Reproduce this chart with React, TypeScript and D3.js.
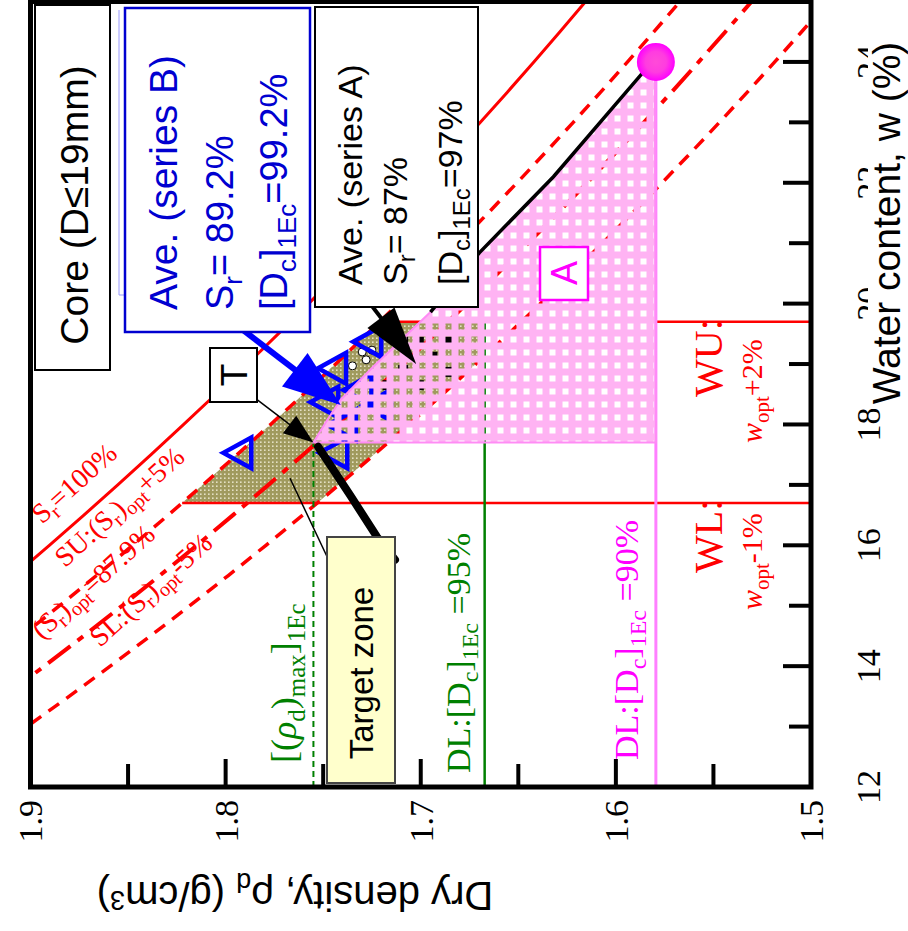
import React from "react";
import * as d3 from "d3";

// chart is drawn as a normal w–ρd chart, then the whole group is turned 90° CCW
const W = 908;
const H = 931;
const Gs = 2.71;

const wTicks = [12, 13, 14, 15, 16, 17, 18, 19, 20, 21, 22, 23, 24];
const wLabels = [12, 14, 16, 18, 20, 22, 24];
const rhoTicks = [1.5, 1.55, 1.6, 1.65, 1.7, 1.75, 1.8, 1.85, 1.9];
const rhoLabels = [1.5, 1.6, 1.7, 1.8, 1.9];

const srLevels = [100, 92.9, 87.9, 82.9];
const srDash = ["none", "13 9", "28 9 7 9", "13 9"];
const srWidth = [3, 3.5, 4, 3.5];
const srLabelW = [16.34, 15.62, 14.43, 14.3];
const srLabelRho = [1.8941, 1.8823, 1.8941, 1.8644];

const wOpt = 17.7;
const rhoMax = 1.755;
const wLower = 16.7;
const wUpper = 19.7;
const dcLevels = [95, 90];

const wetCurveW = [17.7, 18.07, 18.41, 18.95, 19.86, 20.84, 22.1, 23.83, 24.0];
const wetCurveRho = [1.755, 1.748, 1.741, 1.7245, 1.695, 1.67, 1.632, 1.586, 1.58];
const dryCurveW = [15.76, 16.14, 16.83, 17.63];
const dryCurveRho = [1.7132, 1.7224, 1.7362, 1.7526];

const seriesBW = [17.53, 18.93, 19.37, 17.53, 18.37, 18.57, 17.99, 18.32];
const seriesBRho = [1.7926, 1.744, 1.726, 1.7434, 1.748, 1.731, 1.739, 1.721];
const seriesAW = [19.37, 18.9, 19.12, 18.65, 19.37, 19.37, 18.65, 18.87];
const seriesARho = [1.701, 1.709, 1.694, 1.717, 1.686, 1.709, 1.701, 1.686];
const openW = [19.2, 19.23, 18.97, 19.07];
const openRho = [1.73, 1.725, 1.735, 1.728];

const aveA = { sr: 87, dc: 97 };
const aveB = { sr: 89.2, dc: 99.2 };

const xW = d3.scaleLinear().domain([12, 25]).range([144, 929.5]);
const yD = d3.scaleLinear().domain([1.5, 1.9]).range([811, 30.5]);

const rhoAt = (w: number, sr: number) => 1 / (w / sr + 1 / Gs);
const wAt = (rho: number, sr: number) => sr * (1 / rho - 1 / Gs);

type Part = [string, number];
const rich = (parts: Part[], size: number, sub: number, shift: number, italic?: string) => {
  let cur = 0;
  return parts.map(([t, lvl], i) => {
    const target = lvl * shift;
    const dy = target - cur;
    cur = target;
    return (
      <tspan key={i} dy={dy} fontSize={lvl === 0 ? size : sub}
        fontStyle={italic === t ? "italic" : undefined}>{t}</tspan>
    );
  });
};

function Arrow({ x1, y1, x2, y2, len, half, width, color }: any) {
  const dx = x2 - x1, dy = y2 - y1;
  const d = Math.hypot(dx, dy);
  const ux = dx / d, uy = dy / d;
  const bx = x2 - ux * len, by = y2 - uy * len;
  const pts = [[x2, y2], [bx - uy * half, by + ux * half], [bx + uy * half, by - ux * half]];
  return (
    <g>
      <line x1={x1} y1={y1} x2={bx + ux * 2} y2={by + uy * 2} stroke={color} strokeWidth={width} />
      <polygon points={pts.map((p) => p.join(",")).join(" ")} fill={color} />
    </g>
  );
}

export default function App() {
  const line = d3.line<[number, number]>().x((d) => xW(d[0])).y((d) => yD(d[1]));
  const wGrid = d3.range(11, 25.6, 0.5);

  const rhoDL = dcLevels.map((dc) => (rhoMax * dc) / 100);
  const su = srLevels[1], sl = srLevels[3];
  const wSL95 = wAt(rhoDL[0], sl);

  // target zone T
  const zone: [number, number][] = [
    [wLower, rhoAt(wLower, su)],
    [(wLower + wUpper) / 2, rhoAt((wLower + wUpper) / 2, su)],
    [wUpper, rhoAt(wUpper, su)],
    [wUpper, rhoDL[0]],
    [wSL95, rhoDL[0]],
    [(wSL95 + wLower) / 2, rhoAt((wSL95 + wLower) / 2, sl)],
    [wLower, rhoAt(wLower, sl)],
  ];

  const wet: [number, number][] = wetCurveW.map((w, i) => [w, wetCurveRho[i]]);
  const pinkZone: [number, number][] = [...wet, [wOpt, rhoDL[1]]];
  const dry: [number, number][] = dryCurveW.map((w, i) => [w, dryCurveRho[i]]);

  const rhoA = (rhoMax * aveA.dc) / 100;
  const tipA = [xW(wAt(rhoA, aveA.sr)), yD(rhoA)];
  const rhoB = (rhoMax * aveB.dc) / 100;
  const tipB = [xW(wAt(rhoB, aveB.sr)), yD(rhoB)];

  const serif = "'Liberation Serif', 'Times New Roman', serif";
  const sans = "'Liberation Sans', Arial, sans-serif";
  const red = "#ff0000";
  const green = "#008000";
  const mag = "#ff00ff";
  const blue = "#0000d0";

  const tri = (cx: number, cy: number, s: number) =>
    `M${cx},${cy - s * 0.6} L${cx + s * 0.55},${cy + s * 0.4} L${cx - s * 0.55},${cy + s * 0.4} Z`;

  return (
    <svg width={W} height={H} style={{ position: "absolute", left: 0, top: 0, background: "#fff" }}>
      <defs>
        <clipPath id="plotClip">
          <rect x={144} y={30.5} width={785.5} height={780.5} />
        </clipPath>
        <pattern id="pinkPat" width={13} height={13} patternUnits="userSpaceOnUse">
          <path d="M0 0H13V13H0Z M3.5 3.5V9.5H9.5V3.5Z" fill="#ffb3f3" fillRule="evenodd" />
        </pattern>
        <pattern id="olivePat" width={4} height={4} patternUnits="userSpaceOnUse">
          <rect width={4} height={4} fill="#a09a5e" />
          <rect width={1.6} height={1.6} fill="#e4e0c4" />
        </pattern>
        <radialGradient id="dotGrad">
          <stop offset="0%" stopColor="#ff4bd8" />
          <stop offset="55%" stopColor="#ff3ce0" />
          <stop offset="100%" stopColor="#ff00ff" />
        </radialGradient>
      </defs>

      <g transform={`translate(0,${H}) rotate(-90)`}>
        <g clipPath="url(#plotClip)">
          <path d={line(zone) || ""} fill="url(#olivePat)" />

          {srLevels.map((sr, i) => (
            <path key={sr} d={line(wGrid.map((w) => [w, rhoAt(w, sr)] as [number, number])) || ""}
              fill="none" stroke={red} strokeWidth={srWidth[i]}
              strokeDasharray={srDash[i] === "none" ? undefined : srDash[i]} />
          ))}

          {[wLower, wUpper].map((w) => (
            <line key={w} x1={xW(w)} x2={xW(w)} y1={yD(rhoAt(w, su))} y2={yD(1.5)} stroke={red} strokeWidth={2.5} />
          ))}

          <line x1={xW(12)} x2={xW(wOpt)} y1={yD(rhoMax)} y2={yD(rhoMax)} stroke={green} strokeWidth={2} strokeDasharray="6 4" />
          <line x1={xW(12)} x2={xW(wUpper)} y1={yD(rhoDL[0])} y2={yD(rhoDL[0])} stroke={green} strokeWidth={2.5} />
          <line x1={xW(12)} x2={xW(24)} y1={yD(rhoDL[1])} y2={yD(rhoDL[1])} stroke="#ff80ff" strokeWidth={3} />

          {seriesAW.map((w, i) => (
            <rect key={"a" + i} x={xW(w) - 5} y={yD(seriesARho[i]) - 5} width={10} height={10} fill="#000" />
          ))}
          {openW.map((w, i) => (
            <circle key={"o" + i} cx={xW(w)} cy={yD(openRho[i])} r={4} fill="#fff" stroke="#000" strokeWidth={1} />
          ))}
          {seriesBW.map((w, i) => (
            <path key={"b" + i} d={tri(xW(w), yD(seriesBRho[i]), 28)} fill="none" stroke="#0000ff" strokeWidth={4.5} />
          ))}

          <path d={(line(pinkZone) || "") + "Z"} fill="url(#pinkPat)" stroke="#ff8cf5" strokeWidth={2} />
          <path d={line(wet.slice(4)) || ""} fill="none" stroke="#000" strokeWidth={3.5} />
          <path d={line(dry) || ""} fill="none" stroke="#000" strokeWidth={8} strokeLinecap="round" />

          <circle cx={xW(24)} cy={yD(rhoDL[1])} r={19} fill="url(#dotGrad)" />
        </g>

        {/* S_r labels */}
        <g fill={red} fontFamily={serif} style={{ whiteSpace: "pre" }}>
          {[
            [["S", 0], ["r", 1], ["=100%", 0]],
            [["SU:(S", 0], ["r", 1], [")", 0], ["opt", 1], ["+5%", 0]],
            [["(S", 0], ["r", 1], [")", 0], ["opt", 1], ["=87.9%", 0]],
            [["SL:(S", 0], ["r", 1], [")", 0], ["opt", 1], ["-5%", 0]],
          ].map((parts, i) => (
            <text key={i} transform={`translate(${xW(srLabelW[i])},${yD(srLabelRho[i])}) rotate(48)`}>
              {rich(parts as Part[], 28, 20, 6)}
            </text>
          ))}
        </g>

        {/* vertical criteria labels */}
        <text x={168} y={296} fill={green} fontFamily={serif} style={{ whiteSpace: "pre" }}>
          {rich([["[(", 0], ["ρ", 0], ["d", 1], [")", 0], ["max", 1], ["]", 0], ["1Ec", 1]], 36, 25, 9, "ρ")}
        </text>
        <text x={158} y={470} fill={green} fontFamily={serif} style={{ whiteSpace: "pre" }}>
          {rich([["DL:[D", 0], ["c", 1], ["]", 0], ["1Ec", 1], [" =95%", 0]], 34, 24, 8)}
        </text>
        <text x={171} y={638} fill={mag} fontFamily={serif} style={{ whiteSpace: "pre" }}>
          {rich([["DL:[D", 0], ["c", 1], ["]", 0], ["1Ec", 1], [" =90%", 0]], 34, 24, 8)}
        </text>

        <g fill={red} fontFamily={serif} style={{ whiteSpace: "pre" }}>
          <text x={534} y={722} fontSize={40}>WU:</text>
          <text x={488} y={762}>{rich([["w", 0], ["opt", 1], ["+2%", 0]], 30, 21, 7, "w")}</text>
          <text x={358} y={722} fontSize={40}>WL:</text>
          <text x={321} y={762}>{rich([["w", 0], ["opt", 1], ["-1%", 0]], 30, 21, 7, "w")}</text>
        </g>

        {/* pointers */}
        <Arrow x1={xW(18.41)} y1={yD(1.7839)} x2={xW(wOpt)} y2={yD(rhoMax)} len={30} half={11} width={1.5} color="#000" />
        <line x1={xW(15.81)} y1={yD(1.748)} x2={xW(17.11)} y2={yD(1.767)} stroke="#000" strokeWidth={1.5} />
        <Arrow x1={xW(19.56)} y1={yD(1.791)} x2={tipB[0]} y2={tipB[1]} len={58} half={21} width={6} color="#0000ff" />
        <Arrow x1={xW(19.96)} y1={yD(1.725)} x2={tipA[0]} y2={tipA[1]} len={58} half={17} width={4} color="#000" />

        {/* boxes */}
        <rect x={561} y={35} width={365} height={75} fill="#fff" stroke="#000" strokeWidth={2} />
        <text x={726} y={88} fontSize={39} fontFamily={sans} textAnchor="middle">Core (D≤19mm)</text>

        <line x1={636} x2={921} y1={119} y2={119} stroke="#9a9aff" strokeWidth={1} />
        <line x1={636} x2={636} y1={119} y2={125} stroke="#9a9aff" strokeWidth={1} />
        <rect x={599} y={125} width={324} height={185} fill="#fff" stroke={blue} strokeWidth={2.5} />
        <g fill={blue} fontFamily={sans} style={{ whiteSpace: "pre" }}>
          <text x={621} y={177} fontSize={39}>Ave. (series B)</text>
          <text x={621} y={233}>{rich([["S", 0], ["r", 1], ["= 89.2%", 0]], 38, 26, 9)}</text>
          <text x={621} y={287}>{rich([["[D", 0], ["c", 1], ["]", 0], ["1Ec", 1], ["=99.2%", 0]], 38, 26, 9)}</text>
        </g>

        <rect x={624} y={315} width={300} height={163} fill="#fff" stroke="#000" strokeWidth={2} />
        <g fill="#000" fontFamily={sans} style={{ whiteSpace: "pre" }}>
          <text x={646} y={362} fontSize={34}>Ave. (series A)</text>
          <text x={646} y={407}>{rich([["S", 0], ["r", 1], ["= 87%", 0]], 34, 24, 8)}</text>
          <text x={646} y={462}>{rich([["[D", 0], ["c", 1], ["]", 0], ["1Ec", 1], ["=97%", 0]], 34, 24, 8)}</text>
        </g>

        <rect x={529} y={210} width={54} height={47} fill="#fff" stroke="#000" strokeWidth={2} />
        <text x={556} y={247} fontSize={37} fontFamily={sans} textAnchor="middle">T</text>

        <rect x={631} y={540} width={53} height={48} fill="#fff" stroke={mag} strokeWidth={2.5} />
        <text x={658} y={577} fontSize={36} fontFamily={sans} fill={mag} textAnchor="middle">A</text>

        <rect x={148} y={327} width={246} height={68} fill="#ffffcc" stroke="#444" strokeWidth={2} />
        <text x={258} y={373} fontSize={33} fontFamily={sans} textAnchor="middle">Target zone</text>

        {/* axes */}
        {wTicks.map((w) => (
          <line key={"wt" + w} x1={xW(w)} x2={xW(w)} y1={811} y2={811 - (w % 2 === 0 ? 28 : 22)} stroke="#000" strokeWidth={4} />
        ))}
        {rhoTicks.map((r, i) => (
          <line key={"rt" + r} x1={144} x2={144 + (i % 2 === 0 ? 28 : 23)} y1={yD(r)} y2={yD(r)} stroke="#000" strokeWidth={4} />
        ))}
        {wLabels.map((w) => (
          <text key={"wl" + w} x={xW(w)} y={880} fontSize={34} fontFamily={serif} textAnchor="middle">{w}</text>
        ))}
        {rhoLabels.map((r) => (
          <text key={"rl" + r} x={131} y={yD(r)} dy="0.35em" fontSize={34} fontFamily={serif} textAnchor="end">{r.toFixed(1)}</text>
        ))}
        <rect x={144} y={30.5} width={785.5} height={780.5} fill="none" stroke="#000" strokeWidth={5} />

        <rect x={522} y={868} width={374} height={40} fill="#fff" />
        <text x={708} y={900} fontSize={39} fontFamily={sans} textAnchor="middle">Water content, w (%)</text>
        <text transform="translate(49,295) rotate(-90)" fontFamily={sans} textAnchor="middle" style={{ whiteSpace: "pre" }}>
          {rich([["Dry density, ρ", 0], ["d", 1], [" (g/cm", 0], ["3", -1], [")", 0]], 40, 27, 9)}
        </text>
      </g>
    </svg>
  );
}
